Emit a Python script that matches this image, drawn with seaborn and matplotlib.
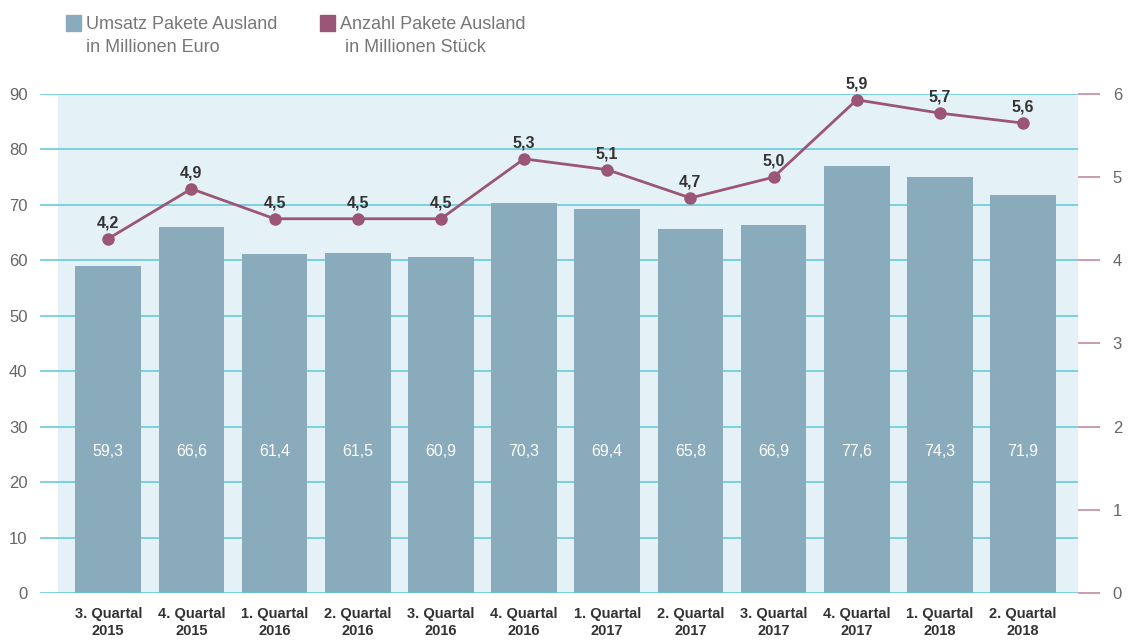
import numpy as np
import pandas as pd
import matplotlib.pyplot as plt
import seaborn as sns
from matplotlib.patches import Rectangle

sns.set_style("white")
plt.rcParams["font.family"] = ["Liberation Sans", "DejaVu Sans"]

quarters = ["3. Quartal\n2015", "4. Quartal\n2015", "1. Quartal\n2016", "2. Quartal\n2016",
            "3. Quartal\n2016", "4. Quartal\n2016", "1. Quartal\n2017", "2. Quartal\n2017",
            "3. Quartal\n2017", "4. Quartal\n2017", "1. Quartal\n2018", "2. Quartal\n2018"]
# bar heights as drawn, and the printed labels
umsatz = [59.0, 66.0, 61.1, 61.3, 60.6, 70.3, 69.3, 65.7, 66.4, 77.0, 75.0, 71.8]
umsatz_labels = ["59,3", "66,6", "61,4", "61,5", "60,9", "70,3", "69,4", "65,8", "66,9", "77,6", "74,3", "71,9"]
# point heights as drawn, and the printed labels
anzahl = [4.26, 4.86, 4.5, 4.5, 4.5, 5.22, 5.09, 4.75, 5.0, 5.93, 5.77, 5.65]
anzahl_labels = ["4,2", "4,9", "4,5", "4,5", "4,5", "5,3", "5,1", "4,7", "5,0", "5,9", "5,7", "5,6"]

BAR = "#8aabbb"
LINE = "#9b5577"
GRID = "#5cc6dc"
BG = "#e4f2f7"

df = pd.DataFrame({"quarter": quarters, "umsatz": umsatz, "anzahl": anzahl,
                   "pos": np.arange(len(quarters))})

fig = plt.figure(figsize=(11.35, 6.4), dpi=100)
ax = fig.add_axes([40 / 1135, 47 / 640, 1038 / 1135, 499 / 640])

sns.barplot(data=df, x="quarter", y="umsatz", color=BAR, saturation=1, width=0.79,
            linewidth=0, edgecolor="none", ax=ax, zorder=3)
ax.set_xlim(-0.82, 11.66)
ax.set_ylim(0, 90)
ax.axvspan(-0.6, 11.66, color=BG, zorder=0, lw=0)
ax.set_yticks(range(0, 91, 10))
for v in range(0, 91, 10):
    ax.axhline(v, color=GRID, lw=1.1, zorder=4 if v == 0 else 1)
for s in ax.spines.values():
    s.set_visible(False)
ax.set_xlabel("")
ax.set_ylabel("")
ax.tick_params(axis="y", length=0, pad=9, labelsize=12, labelcolor="#666666")
ax.tick_params(axis="x", length=0, pad=10, labelsize=10.5, labelcolor="#333333")
for lab in ax.get_xticklabels():
    lab.set_fontweight("bold")
    lab.set_linespacing(1.3)

for i, t in enumerate(umsatz_labels):
    ax.text(i, 25.5, t, ha="center", va="center", color="white", fontsize=11.5, zorder=5)

ax2 = ax.twinx()
sns.lineplot(data=df, x="pos", y="anzahl", color=LINE, lw=2, marker="o", markersize=9,
             markeredgewidth=0, ax=ax2, zorder=6)
ax2.set_ylim(0, 6)
ax2.set_xlim(-0.82, 11.66)
ax2.set_yticks(range(0, 7))
ax2.set_xlabel("")
ax2.set_ylabel("")
for s in ax2.spines.values():
    s.set_visible(False)
ax2.tick_params(axis="y", right=True, length=16, width=1.2, color="#c48aa3", pad=9,
                labelsize=12, labelcolor="#666666")
for i, (v, t) in enumerate(zip(anzahl, anzahl_labels)):
    ax2.annotate(t, (i, v), xytext=(0, 16), textcoords="offset pixels", ha="center", va="center",
                 color="#333333", fontsize=11.5, fontweight="bold", zorder=7)

# legend
fig.patches.append(Rectangle((66 / 1135, 1 - 31 / 640), 15 / 1135, 16 / 640,
                             transform=fig.transFigure, color=BAR, figure=fig))
fig.text(86 / 1135, 1 - 36 / 640, "Umsatz Pakete Ausland\nin Millionen Euro", ha="left", va="center",
         fontsize=13, color="#777777", linespacing=1.45)
fig.patches.append(Rectangle((320 / 1135, 1 - 31 / 640), 15 / 1135, 16 / 640,
                             transform=fig.transFigure, color=LINE, figure=fig))
fig.text(340 / 1135, 1 - 36 / 640, "Anzahl Pakete Ausland\n in Millionen Stück", ha="left", va="center",
         fontsize=13, color="#777777", linespacing=1.45)

fig.savefig("out.png", dpi=100)
